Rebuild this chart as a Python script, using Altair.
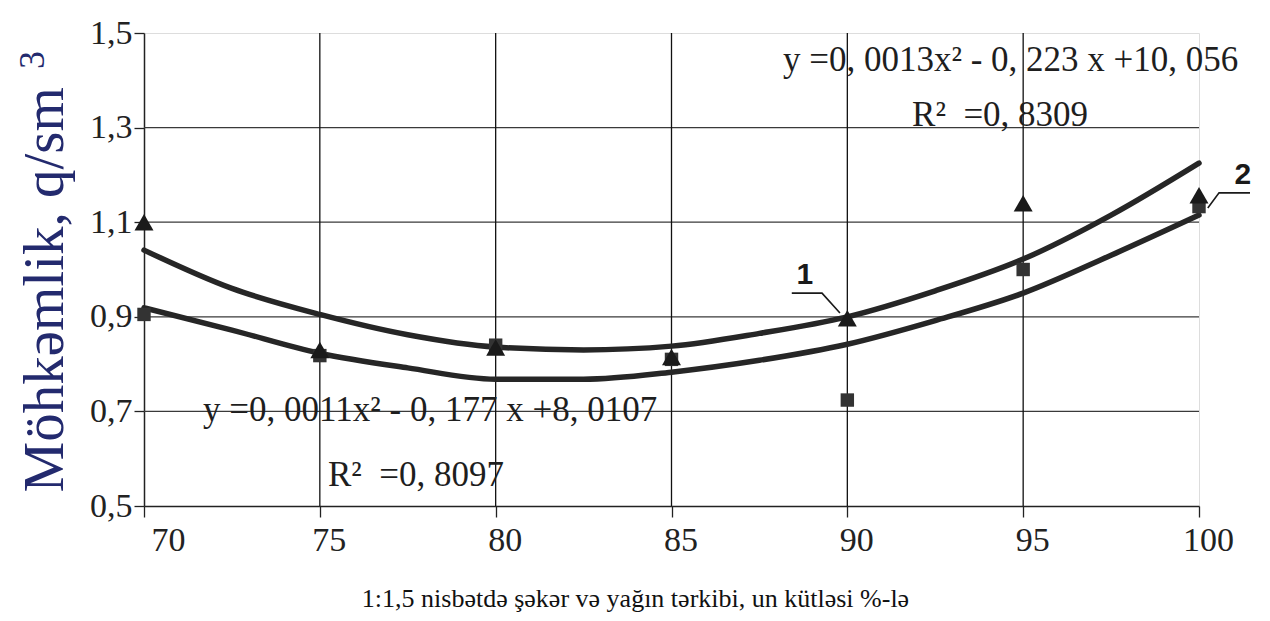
import altair as alt
import pandas as pd

# ---- data ----
x_ticks = [70, 75, 80, 85, 90, 95, 100]
y_ticks = [0.5, 0.7, 0.9, 1.1, 1.3, 1.5]
v_grid = [75, 80, 85, 90, 95]
h_grid = [0.7, 0.9, 1.1, 1.3]

pts_x = [70, 75, 80, 85, 90, 95, 100]
tri_y = [1.10, 0.83, 0.835, 0.815, 0.897, 1.14, 1.157]   # series 1 (triangles)
sq_y = [0.905, 0.818, 0.84, 0.81, 0.724, 1.00, 1.133]    # series 2 (squares)

curve_x = [70, 72.5, 75, 77.5, 80, 82.5, 85, 87.5, 90, 92.5, 95, 97.5, 100]
curve1_y = [1.041, 0.960, 0.905, 0.862, 0.836, 0.830, 0.838, 0.865, 0.900, 0.955, 1.022, 1.115, 1.225]
curve2_y = [0.919, 0.872, 0.823, 0.792, 0.768, 0.768, 0.783, 0.808, 0.842, 0.892, 0.950, 1.030, 1.115]

NB = "\u00a0"
eq_text = ["y =0, 0013x² - 0, 223 x +10, 056", "R²" + NB + NB + "=0, 8309",
           "y =0, 0011x² - 0, 177 x +8, 0107", "R²" + NB + NB + "=0, 8097"]
eq_x = [88.17, 91.84, 71.68, 75.23]
eq_y = [1.443, 1.327, 0.703, 0.566]

num_text = ["1", "2"]
num_x = [88.79, 101.25]
num_y = [0.988, 1.200]

lead_id = [1, 1, 1, 2, 2, 2]
lead_ord = [0, 1, 2, 0, 1, 2]
lead_x = [88.42, 89.28, 89.79, 101.45, 100.57, 100.25]
lead_y = [0.950, 0.950, 0.908, 1.162, 1.162, 1.130]

y_title = "Möhkəmlik, q/sm"
y_title_sup = ["3"]
sup_x = [66.84]
sup_y = [1.443]
x_title = "1:1,5 nisbətdə şəkər və yağın tərkibi, un kütləsi %-lə"

SERIF = "Liberation Serif"
INK = "#222222"

xs = alt.Scale(domain=[70, 100], nice=False, zero=False)
ys = alt.Scale(domain=[0.5, 1.5], nice=False, zero=False)

x_axis = alt.Axis(
    values=x_ticks, grid=False, domain=True, domainColor=INK, domainWidth=1.5,
    ticks=True, tickSize=11, tickColor=INK, tickWidth=1.3,
    labelFont=SERIF, labelFontSize=34, labelColor=INK, labelPadding=6, labelFlush=False,
    labelOffset={"condition": {"test": "datum.value == 70", "value": 24}, "value": 9},
    title=x_title, titleFont=SERIF, titleFontSize=26, titleFontWeight="normal",
    titleColor="#111111", titleX=491, titleY=100, titleBaseline="alphabetic", titleAlign="center",
)
y_axis = alt.Axis(
    values=y_ticks, grid=False, domain=True, domainColor=INK, domainWidth=1.5,
    ticks=True, tickSize=10, tickColor=INK, tickWidth=1.3,
    labelFont=SERIF, labelFontSize=34, labelColor=INK, labelPadding=2, labelFlush=False,
    labelExpr="replace(format(datum.value, '.1f'), '.', ',')",
    title=y_title, titleFont=SERIF, titleFontSize=57, titleFontWeight="normal",
    titleColor="#232a6e", titleAngle=270, titleX=-82, titleY=459,
    titleAlign="left", titleBaseline="alphabetic",
)

X = alt.X("x:Q", scale=xs, axis=x_axis)
Y = alt.Y("y:Q", scale=ys, axis=y_axis)

hgrid_df = pd.DataFrame({"y": h_grid, "x": [70] * len(h_grid), "x2": [100] * len(h_grid)})
vgrid_df = pd.DataFrame({"x": v_grid, "y": [0.5] * len(v_grid), "y2": [1.5] * len(v_grid)})

hgrid = alt.Chart(hgrid_df).mark_rule(color="#3a3a3a", strokeWidth=1.2).encode(
    x=X, x2="x2:Q", y=Y,
)
vgrid = alt.Chart(vgrid_df).mark_rule(color="#111111", strokeWidth=1.3).encode(
    x=X, y=Y, y2="y2:Q",
)

curves_df = pd.concat([
    pd.DataFrame({"x": curve_x, "y": curve1_y, "s": "1"}),
    pd.DataFrame({"x": curve_x, "y": curve2_y, "s": "2"}),
])
curves = alt.Chart(curves_df).mark_line(
    color="#262626", strokeWidth=5.5, interpolate="monotone", strokeCap="round"
).encode(x=X, y=Y, detail="s:N")

sq = alt.Chart(pd.DataFrame({"x": pts_x, "y": sq_y})).mark_point(
    shape="square", filled=True, size=180, color="#333333", opacity=1
).encode(x=X, y=Y)

tri = alt.Chart(pd.DataFrame({"x": pts_x, "y": tri_y})).mark_point(
    shape="triangle-up", filled=True, size=360, color="#1a1a1a", opacity=1
).encode(x=X, y=Y)

eqs = alt.Chart(pd.DataFrame({"x": eq_x, "y": eq_y, "t": eq_text})).mark_text(
    font=SERIF, fontSize=35, align="left", baseline="middle", color="#1e1e1e"
).encode(x=X, y=Y, text="t:N")

nums = alt.Chart(pd.DataFrame({"x": num_x, "y": num_y, "t": num_text})).mark_text(
    font="Liberation Sans", fontSize=30, fontWeight="bold", align="center", baseline="middle", color="#1a1a1a"
).encode(x=X, y=Y, text="t:N")

leads = alt.Chart(pd.DataFrame({"x": lead_x, "y": lead_y, "id": lead_id, "o": lead_ord})).mark_line(
    color="#1a1a1a", strokeWidth=1.6
).encode(x=X, y=Y, detail="id:N", order="o:Q")

sup = alt.Chart(pd.DataFrame({"x": sup_x, "y": sup_y, "t": y_title_sup})).mark_text(
    font=SERIF, fontSize=36, angle=270, align="center", baseline="middle", color="#232a6e"
).encode(x=X, y=Y, text="t:N")

chart = alt.layer(hgrid, vgrid, curves, sq, tri, leads, nums, eqs, sup).properties(
    width=1055, height=473,
    autosize=alt.AutoSizeParams(type="none"),
    padding={"left": 136, "top": 25, "right": 60, "bottom": 106},
).configure_view(strokeWidth=0).configure(background="white")

chart.save("out.html", embed_options={"renderer": "svg", "actions": False})
